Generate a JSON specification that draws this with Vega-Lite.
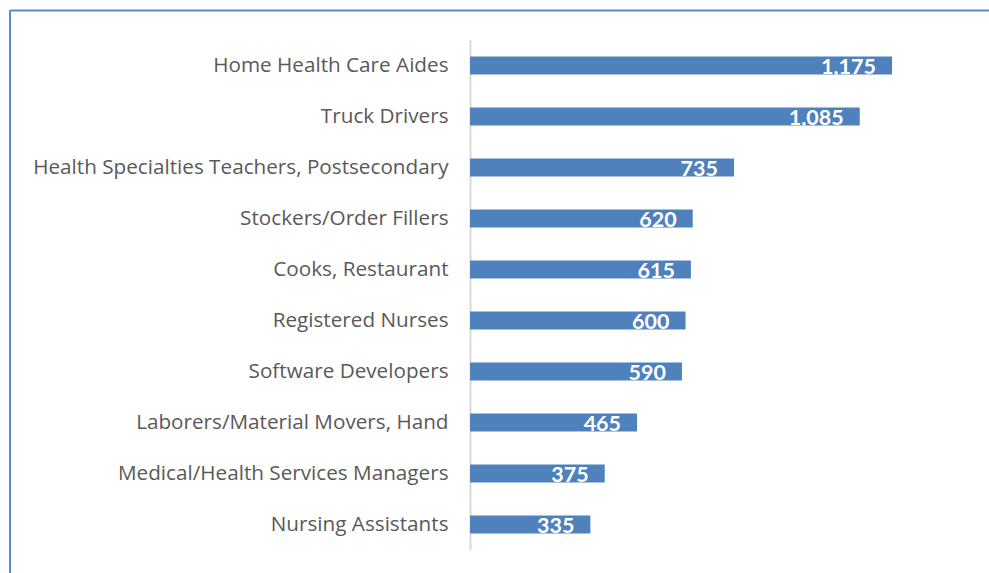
{
  "$schema": "https://vega.github.io/schema/vega-lite/v6.json",
  "width": 979,
  "height": 563,
  "autosize": {"type": "none"},
  "padding": {"left": 10, "top": 10, "right": 0, "bottom": 0},
  "background": "white",
  "config": {"view": {"stroke": null}},
  "data": {"values": [
    {"job": "Home Health Care Aides", "value": 1175},
    {"job": "Truck Drivers", "value": 1085},
    {"job": "Health Specialties Teachers, Postsecondary", "value": 735},
    {"job": "Stockers/Order Fillers", "value": 620},
    {"job": "Cooks, Restaurant", "value": 615},
    {"job": "Registered Nurses", "value": 600},
    {"job": "Software Developers", "value": 590},
    {"job": "Laborers/Material Movers, Hand", "value": 465},
    {"job": "Medical/Health Services Managers", "value": 375},
    {"job": "Nursing Assistants", "value": 335}
  ]},
  "encoding": {
    "y": {"field": "job", "type": "nominal", "sort": null,
      "scale": {"range": [30, 540], "paddingInner": 0.647, "paddingOuter": 0.3235},
      "axis": {"title": null, "orient": "left", "offset": -460, "ticks": false, "tickSize": 0,
        "labelPadding": 22, "labelFont": "Open Sans", "labelFontSize": 20.7, "labelColor": "#595959",
        "labelLimit": 600, "domainColor": "#d9d9d9", "domainWidth": 2, "grid": false, "labelAlign": "right"}}
  },
  "layer": [
    {
      "mark": {"type": "bar", "color": "#4f81bd"},
      "encoding": {
        "x": {"field": "value", "type": "quantitative",
          "scale": {"domain": [-1281, 1445], "nice": false, "zero": false},
          "axis": {"orient": "top", "title": null, "labels": false, "ticks": false, "grid": false,
            "domainColor": "#5b8ac6", "domainWidth": 2}},
        "x2": {"datum": 0}
      }
    },
    {
      "mark": {"type": "text", "align": "right", "baseline": "middle", "dx": -16, "dy": 2,
        "font": "Lato", "fontWeight": "bold", "fontSize": 21.5, "color": "white"},
      "encoding": {
        "x": {"field": "value", "type": "quantitative"},
        "text": {"field": "value", "type": "quantitative", "format": ","}
      }
    },
    {
      "mark": {"type": "rule", "color": "#5b8ac6", "strokeWidth": 2},
      "encoding": {"x": {"datum": -1281}, "y": null}
    }
  ]
}
